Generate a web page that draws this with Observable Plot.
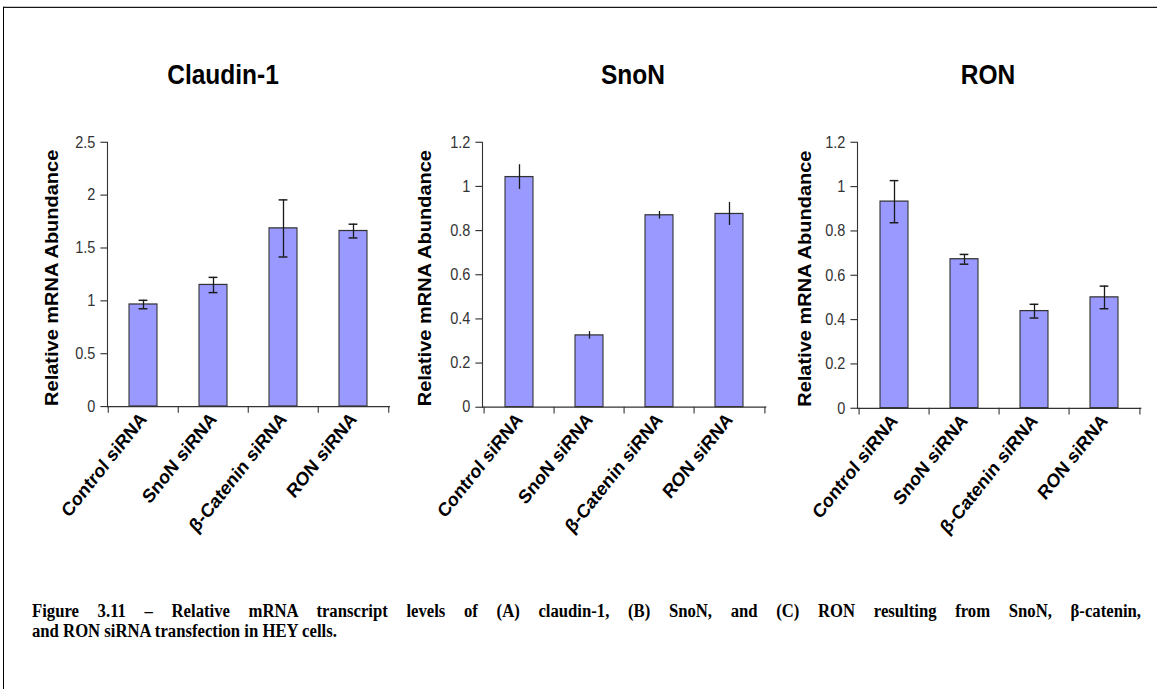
<!DOCTYPE html>
<html><head><meta charset="utf-8">
<script src="https://cdn.jsdelivr.net/npm/d3@7"></script>
<script src="https://cdn.jsdelivr.net/npm/@observablehq/plot@0.6"></script>
<style>
html,body{margin:0;padding:0;background:#fff;overflow:hidden;width:1157px;height:689px;}
#page{position:absolute;left:0;top:0;width:1157px;height:610px;transform:scaleY(1.13);transform-origin:0 0;font-family:"Liberation Sans",Arial,sans-serif;}
#frame{position:absolute;left:2.5px;top:5.6px;width:1200px;height:700px;border-top:1.6px solid #000;border-left:1.6px solid #000;}
.title{position:absolute;width:200px;text-align:center;font-weight:bold;font-size:24.5px;line-height:28px;color:#000;}
.panel{position:absolute;top:100px;}
.cap{position:absolute;left:32px;width:1109px;font-family:"Liberation Serif","Times New Roman",serif;font-weight:bold;font-size:16.7px;line-height:17.7px;color:#000;}
</style></head>
<body>
<div id="page">
  <div id="frame"></div>
  <div id="panels"></div>
  <div class="cap" style="top:531.9px;text-align:justify;text-align-last:justify;">Figure 3.11 – Relative mRNA transcript levels of (A) claudin-1, (B) SnoN, and (C) RON resulting from SnoN, β-catenin,</div>
  <div class="cap" style="top:549.6px;">and RON siRNA transfection in HEY cells.</div>
</div>
<script>
// ---- data ----
const categories = ["Control siRNA", "SnoN siRNA", "β-Catenin siRNA", "RON siRNA"];
const panelTitles = ["Claudin-1", "SnoN", "RON"];
const yTitle = "Relative mRNA Abundance";

const claudinValues = [0.965, 1.15, 1.685, 1.66];
const claudinErrors = [0.04, 0.072, 0.27, 0.065];
const snonValues = [1.042, 0.325, 0.869, 0.875];
const snonErrors = [0.056, 0.017, 0.017, 0.052];
const ronValues = [0.932, 0.672, 0.438, 0.5];
const ronErrors = [0.095, 0.022, 0.031, 0.051];

const claudinTicks = [0, 0.5, 1, 1.5, 2, 2.5];
const snonTicks = [0, 0.2, 0.4, 0.6, 0.8, 1, 1.2];
const ronTicks = [0, 0.2, 0.4, 0.6, 0.8, 1, 1.2];

// ---- layout (design coords, page is stretched vertically by 1.13) ----
const panels = [
  {title: panelTitles[0], values: claudinValues, errors: claudinErrors, ticks: claudinTicks, domain: [0, 2.5], caps: true,
   left: 7.3, plotW: 282, bottom: 359.3, titleX: 223, yTitleDx: -55.6},
  {title: panelTitles[1], values: snonValues, errors: snonErrors, ticks: snonTicks, domain: [0, 1.2], caps: false,
   left: 381.7, plotW: 283.3, bottom: 359.9, titleX: 633, yTitleDx: -56.7},
  {title: panelTitles[2], values: ronValues, errors: ronErrors, ticks: ronTicks, domain: [0, 1.2], caps: true,
   left: 756.7, plotW: 283.3, bottom: 360.8, titleX: 988, yTitleDx: -51.7}
];

const svgTop = 100, svgH = 400, mLeft = 100, mRight = 14, mTop = 25.4;
const page = document.getElementById("page");
const holder = document.getElementById("panels");

for (const p of panels) {
  const data = categories.map((c, i) => ({cat: c, value: p.values[i], err: p.errors[i]}));
  const step = p.plotW / 4;
  const bw = step * 0.4;
  const cap = 9;
  const ins = (bw - cap) / 2;
  const marks = [
    Plot.barY(data, {x: "cat", y: "value", fill: "#9999ff", stroke: "#333", strokeWidth: 1.1}),
    Plot.ruleX(data, {x: "cat", y1: d => d.value - d.err, y2: d => d.value + d.err, stroke: "#1a1a1a", strokeWidth: 1.3})
  ];
  if (p.caps) {
    marks.push(Plot.tickY(data, {x: "cat", y: d => d.value + d.err, insetLeft: ins, insetRight: ins, stroke: "#1a1a1a", strokeWidth: 1.3}));
    marks.push(Plot.tickY(data, {x: "cat", y: d => d.value - d.err, insetLeft: ins, insetRight: ins, stroke: "#1a1a1a", strokeWidth: 1.3}));
  }
  marks.push(
    Plot.frame({anchor: "left", stroke: "#333", strokeWidth: 1.1}),
    Plot.frame({anchor: "bottom", stroke: "#333", strokeWidth: 1.1}),
    Plot.ruleX(categories, {x: d => d, y1: 0, y2: 0, insetBottom: -6, dx: -step / 2, stroke: "#333", strokeWidth: 1.1}),
    Plot.ruleX(categories.slice(-1), {x: d => d, y1: 0, y2: 0, insetBottom: -6, dx: step / 2, stroke: "#333", strokeWidth: 1.1}),
    Plot.axisY({ticks: p.ticks, tickFormat: d => String(d), tickSize: 6.6, tickPadding: 5.5, fontSize: 14.5, label: null, stroke: "#333", fill: "#333"}),
    Plot.axisX({tickRotate: -48, tickSize: 0, tickPadding: 8, fontSize: 17.2, fontWeight: "bold", label: null, fill: "#000"}),
    Plot.text([yTitle], {text: d => d, frameAnchor: "left", textAnchor: "middle", rotate: -90, dx: p.yTitleDx, dy: 3, fontSize: 17.7, fontWeight: "bold", fill: "#000"})
  );
  const chart = Plot.plot({
    width: mLeft + p.plotW + mRight,
    height: svgH,
    marginLeft: mLeft,
    marginRight: mRight,
    marginTop: mTop,
    marginBottom: svgTop + svgH - p.bottom,
    x: {domain: categories, paddingInner: 0.6, paddingOuter: 0.3},
    y: {domain: p.domain},
    style: {fontFamily: "'Liberation Sans', Arial, sans-serif", background: "transparent", color: "#222", overflow: "visible"},
    marks
  });
  const wrap = document.createElement("div");
  wrap.className = "panel";
  wrap.style.left = (p.left) + "px";
  wrap.appendChild(chart);
  holder.appendChild(wrap);

  const t = document.createElement("div");
  t.className = "title";
  t.textContent = p.title;
  t.style.left = (p.titleX - 100) + "px";
  t.style.top = "52.4px";
  page.appendChild(t);
}
</script>
</body></html>
